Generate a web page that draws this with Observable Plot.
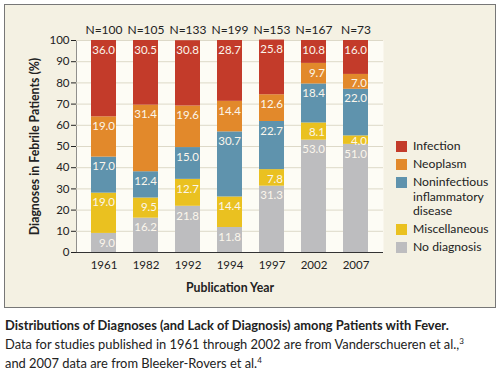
<!DOCTYPE html>
<html><head><meta charset="utf-8">
<script src="https://cdn.jsdelivr.net/npm/d3@7"></script>
<script src="https://cdn.jsdelivr.net/npm/@observablehq/plot@0.6"></script>
<style>
body{margin:0;background:#fff;font-family:Lato,sans-serif;}
#box{position:absolute;left:4px;top:4px;width:490px;height:302px;border:1.5px solid #777;background:#f4f1e3;}
#chart{position:absolute;left:0;top:0;}
#legend{position:absolute;left:391px;top:134px;width:100px;font-size:12.2px;color:#222;}
.item{display:flex;align-items:flex-start;margin-bottom:3.6px;line-height:14.5px;white-space:nowrap;}
.sw{width:11px;height:11px;margin-right:6px;margin-top:2px;flex:none;}
#caption{position:absolute;left:5px;top:316px;width:495px;font-size:12.9px;color:#222;line-height:19px;}
#caption b{display:block;}
sup{font-size:8px;line-height:0;}
g[aria-label$="axis label"] text{font-weight:bold;font-size:12.3px;}
</style></head>
<body>
<div id="box"><div id="chart"></div><div id="legend"></div></div>
<div id="caption"><b>Distributions of Diagnoses (and Lack of Diagnosis) among Patients with Fever.</b>Data for studies published in 1961 through 2002 are from Vanderschueren et al.,<sup>3</sup><br>and 2007 data are from Bleeker-Rovers et al.<sup>4</sup></div>
<script>
const years = ["1961","1982","1992","1994","1997","2002","2007"];
const nLabels = ["N=100","N=105","N=133","N=199","N=153","N=167","N=73"];
const categories = ["No diagnosis","Miscellaneous","Noninfectious inflammatory disease","Neoplasm","Infection"];
const colors = ["#bdbdbf","#eac120","#5f93ad","#e2892b","#c33b2a"];
const noDiagnosis   = [9.0,16.2,21.8,11.8,31.3,53.0,51.0];
const miscellaneous = [19.0,9.5,12.7,14.4,7.8,8.1,4.0];
const noninfectious = [17.0,12.4,15.0,30.7,22.7,18.4,22.0];
const neoplasm      = [19.0,31.4,19.6,14.4,12.6,9.7,7.0];
const infection     = [36.0,30.5,30.8,28.7,25.8,10.8,16.0];
const series = [noDiagnosis, miscellaneous, noninfectious, neoplasm, infection];
const legendLabels = ["Infection","Neoplasm","Noninfectious<br>inflammatory<br>disease","Miscellaneous","No diagnosis"];
const legendColors = ["#c33b2a","#e2892b","#5f93ad","#eac120","#bdbdbf"];

const data = [];
const labels = [];
years.forEach((y, yi) => {
  let cum = 0;
  categories.forEach((c, ci) => {
    const v = series[ci][yi];
    data.push({year: y, cat: c, value: v});
    cum += v;
    labels.push({year: y, cat: c, value: v, pos: cum - Math.min(4.5, v * 0.6)});
  });
});
const nData = years.map((y, i) => ({year: y, n: nLabels[i]}));

const plot = Plot.plot({
  width: 490, height: 302,
  marginLeft: 71, marginRight: 112, marginTop: 35, marginBottom: 55,
  style: {fontFamily: "Lato, sans-serif", fontSize: "11.5px", color: "#222", background: "transparent"},
  x: {domain: years, paddingInner: 0.4, paddingOuter: 0.3, tickSize: 0, tickPadding: 8, label: "Publication Year", labelAnchor: "center", labelOffset: 39},
  y: {domain: [0, 100], ticks: d3.range(0, 101, 10), tickSize: 5, tickPadding: 2, line: true, label: "Diagnoses in Febrile Patients (%)", labelAnchor: "center", labelOffset: 46, labelArrow: false},
  color: {domain: categories, range: colors},
  marks: [
    Plot.frame({fill: "#fdfcf5", stroke: "none"}),
    Plot.gridY({ticks: d3.range(10, 101, 10), stroke: "#ddd9c8", strokeOpacity: 1}),
    Plot.barY(data, {x: "year", y: "value", fill: "cat", order: categories}),
    Plot.text(labels, {x: "year", y: "pos", text: d => d.value.toFixed(1), fill: "#fbf6ec", textAnchor: "end", dx: 11, fontSize: 11.5}),
    Plot.text(nData, {x: "year", y: 100, text: "n", dy: -10, fontSize: 12, fill: "#222"}),
    Plot.ruleY([0], {stroke: "#333"})
  ]
});
document.getElementById("chart").appendChild(plot);

const lg = document.getElementById("legend");
legendLabels.forEach((l, i) => {
  const d = document.createElement("div");
  d.className = "item";
  d.innerHTML = `<div class="sw" style="background:${legendColors[i]}"></div><div>${l}</div>`;
  lg.appendChild(d);
});
</script>
</body></html>
